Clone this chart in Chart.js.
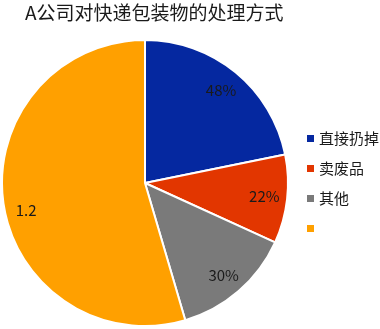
<!DOCTYPE html>
<html>
<head>
<meta charset="utf-8">
<script src="https://cdn.jsdelivr.net/npm/chart.js@4/dist/chart.umd.min.js"></script>
<style>
  html, body { margin: 0; padding: 0; background: #fff; }
  #wrap { position: relative; width: 380px; height: 329px; }
</style>
</head>
<body>
<div id="wrap"><canvas id="pie"></canvas></div>
<script>
// A公司对快递包装物的处理方式 — pie.
const TITLE = 'A公司对快递包装物的处理方式';
const CATEGORIES = ['直接扔掉', '卖废品', '其他', ''];
const VALUES = [0.48, 0.22, 0.30, 1.2];
const VALUE_LABELS = ['48%', '22%', '30%', '1.2'];
const COLORS = ['#0528a0', '#e23600', '#7a7a7a', '#ffa000'];

const FONT = '"Noto Sans CJK SC", "Noto Sans", sans-serif';

// Slice labels on each slice's mid angle, ~84% out. The big orange slice's
// label sits a little lower in the original (Excel's own placement).
const LABEL_DY = [0, 0, 2, 10];
const sliceLabels = {
    id: 'sliceLabels',
    afterDatasetsDraw(chart) {
        const ctx = chart.ctx;
        const meta = chart.getDatasetMeta(0);
        ctx.save();
        ctx.font = '15px ' + FONT;
        ctx.fillStyle = '#1a1a1a';
        ctx.textAlign = 'center';
        ctx.textBaseline = 'middle';
        meta.data.forEach((arc, i) => {
            const mid = (arc.startAngle + arc.endAngle) / 2;
            const r = arc.outerRadius * 0.84;
            ctx.fillText(VALUE_LABELS[i], arc.x + Math.cos(mid) * r, arc.y + Math.sin(mid) * r + LABEL_DY[i]);
        });
        ctx.restore();
    },
};

// Title and legend drawn by hand so they sit where the original has them.
const sideText = {
    id: 'sideText',
    afterDraw(chart) {
        const ctx = chart.ctx;
        ctx.save();
        ctx.fillStyle = '#1a1a1a';
        ctx.textBaseline = 'middle';
        ctx.textAlign = 'left';
        ctx.font = '19px ' + FONT;
        ctx.fillText(TITLE, 25, 13);

        ctx.font = '15px ' + FONT;
        CATEGORIES.forEach((c, i) => {
            const y = 138 + i * 30;
            ctx.fillStyle = COLORS[i];
            ctx.fillRect(307, y - 3, 7, 7);
            ctx.fillStyle = '#1a1a1a';
            ctx.fillText(c, 319, y);
        });
        ctx.restore();
    },
};

new Chart(document.getElementById('pie'), {
    type: 'pie',
    data: {
        labels: CATEGORIES,
        datasets: [{
            data: VALUES,
            backgroundColor: COLORS,
            borderColor: '#ffffff',
            borderWidth: 2,
        }],
    },
    options: {
        responsive: true,
        maintainAspectRatio: false,
        animation: false,
        layout: { padding: { left: 1, top: 39, right: 91, bottom: 2 } },
        plugins: {
            legend: { display: false },
            title: { display: false },
            tooltip: { enabled: false },
        },
    },
    plugins: [sliceLabels, sideText],
});
</script>
</body>
</html>
